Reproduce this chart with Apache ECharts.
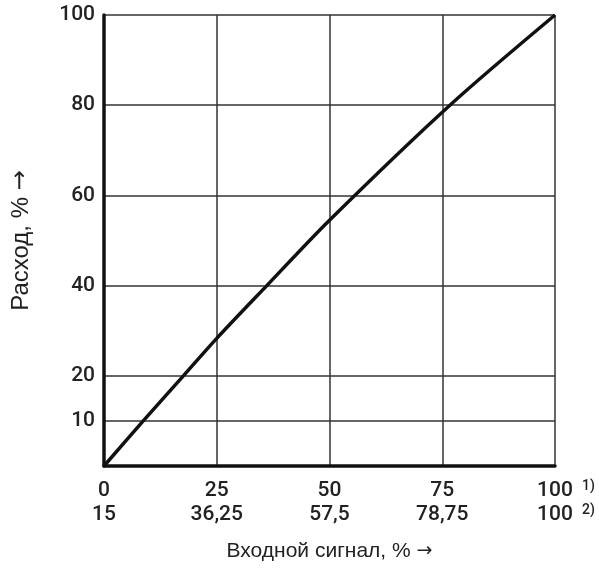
<!DOCTYPE html>
<html>
<head>
<meta charset="utf-8">
<script src="https://cdn.jsdelivr.net/npm/echarts@6/dist/echarts.min.js"></script>
<style>
  html, body { margin: 0; padding: 0; background: #fff; }
  #chart { width: 599px; height: 572px; }
</style>
</head>
<body>
<div id="chart"></div>
<script>
// кривая расхода (вход %, расход %)
const signal = [0, 8.7, 17.6, 25, 36.1, 50, 76.7, 100];
const flow   = [0, 10, 20, 28.3, 40, 54.5, 80, 100];
const yTicks = [0, 10, 20, 40, 60, 80, 100];
const xTicks1 = ['0', '25', '50', '75', '100'];
const xTicks2 = ['15', '36,25', '57,5', '78,75', '100'];
const xSup = ['1)', '2)']; // сноски у последней метки

const tickFont = 'Roboto, Liberation Sans, sans-serif';
const titleFont = 'Liberation Sans, Arial, sans-serif';
const ink = '#222';

// линии сетки только у значений из yTicks
const yGridColors = [];
for (let v = 0; v <= 100; v += 10) {
  yGridColors.push(yTicks.indexOf(v) >= 0 ? '#333' : 'rgba(0,0,0,0)');
}

const chart = echarts.init(document.getElementById('chart'));
chart.setOption({
  animation: false,
  grid: { left: 104, right: 44, top: 15, bottom: 106 },
  xAxis: {
    type: 'value', min: 0, max: 100, interval: 25,
    name: 'Входной сигнал, % {a|→}',
    nameLocation: 'middle', nameGap: 75,
    nameTextStyle: {
      fontFamily: titleFont, fontSize: 21, color: ink,
      rich: { a: { fontFamily: 'DejaVu Sans', fontSize: 19, color: ink } }
    },
    axisLine: { show: true, onZero: false, lineStyle: { color: '#111', width: 3.5 } },
    axisTick: { show: false },
    splitLine: { show: true, lineStyle: { color: '#333', width: 1.5 } },
    axisLabel: {
      margin: 13,
      formatter: function (v) {
        const i = Math.round(v / 25);
        if (i === xTicks1.length - 1) {
          return '{sp|}{n|' + xTicks1[i] + '}{sup|' + xSup[0] + '}\n{sp|}{n|' + xTicks2[i] + '}{sup|' + xSup[1] + '}';
        }
        return '{n|' + xTicks1[i] + '}\n{n|' + xTicks2[i] + '}';
      },
      rich: {
        n: { fontFamily: tickFont, fontWeight: 500, fontSize: 21, color: ink, lineHeight: 24 },
        sup: { fontFamily: tickFont, fontWeight: 500, fontSize: 14, color: ink, width: 22, align: 'right', verticalAlign: 'top', lineHeight: 24, padding: [0, 0, 8, 0] },
        sp: { width: 22 }
      }
    }
  },
  yAxis: {
    type: 'value', min: 0, max: 100, interval: 10,
    name: 'Расход, % {a|→}',
    nameLocation: 'middle', nameGap: 71,
    nameTextStyle: {
      fontFamily: titleFont, fontSize: 24, color: ink,
      rich: { a: { fontFamily: 'DejaVu Sans', fontSize: 24, color: ink } }
    },
    axisLine: { show: true, onZero: false, lineStyle: { color: '#111', width: 3.5 } },
    axisTick: { show: false },
    splitLine: { show: true, lineStyle: { color: yGridColors, width: 1.5 } },
    axisLabel: {
      margin: 9,
      fontFamily: tickFont, fontWeight: 500, fontSize: 21, color: ink,
      formatter: function (v) {
        return (v !== 0 && yTicks.indexOf(v) >= 0) ? String(v) : '';
      }
    }
  },
  series: [{
    type: 'line',
    data: signal.map((s, i) => [s, flow[i]]),
    smooth: 0.3,
    showSymbol: false,
    lineStyle: { color: '#111', width: 3.5 },
    z: 5
  }]
});
</script>
</body>
</html>
